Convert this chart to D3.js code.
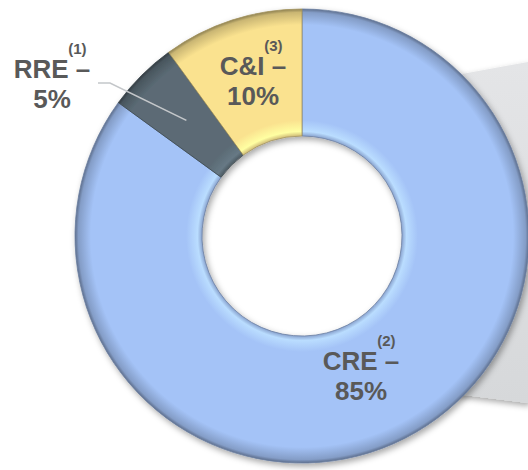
<!DOCTYPE html>
<html>
<head>
<meta charset="utf-8">
<script src="https://cdn.jsdelivr.net/npm/d3@7"></script>
<style>
  body { margin: 0; background: #fff; }
  svg { display: block; font-family: "Liberation Sans", Arial, sans-serif; }
</style>
</head>
<body>
<div id="chart"></div>
<script>
// data
var categories = ['CRE', 'RRE', 'C&I'];
var shares = [85, 5, 10];
var notes = ['(2)', '(1)', '(3)'];
var colors = ['#a4c3f7', '#5b6b75', '#fae28f'];

var svgSize = {width: 528, height: 470};
var cx = 302, cy = 236, rOuter = 227, rInner = 100;

var svg = d3.select('#chart').append('svg')
    .attr('width', svgSize.width)
    .attr('height', svgSize.height);

var defs = svg.append('defs');

var shadow = defs.append('filter').attr('id', 'shadow')
    .attr('x', '-20%').attr('y', '-20%').attr('width', '140%').attr('height', '140%');
shadow.append('feDropShadow')
    .attr('dx', 2).attr('dy', 3).attr('stdDeviation', 3)
    .attr('flood-color', '#000').attr('flood-opacity', 0.35);

// grey panel behind the donut (decoration, partly hidden)
var panelGrad = defs.append('linearGradient').attr('id', 'panelGrad')
    .attr('x1', 0).attr('y1', 0).attr('x2', 0).attr('y2', 1);
panelGrad.append('stop').attr('offset', '0%').attr('stop-color', '#e4e5e7');
panelGrad.append('stop').attr('offset', '100%').attr('stop-color', '#d6d8da');

svg.append('path')
    .attr('d', d3.line()([
        [cx + 138, cy - 158],
        [svgSize.width, 62],
        [svgSize.width, 403],
        [cx + 138, cy + 156]
    ]))
    .attr('fill', 'url(#panelGrad)')
    .attr('filter', 'url(#shadow)');

// bevel gradients per slice
var fr = rInner / rOuter;
colors.forEach(function (c, i) {
    var g = defs.append('radialGradient').attr('id', 'bevel' + i)
        .attr('gradientUnits', 'userSpaceOnUse')
        .attr('cx', 0).attr('cy', 0).attr('r', rOuter);
    var base = d3.color(c);
    g.append('stop').attr('offset', fr).attr('stop-color', base.darker(0.5));
    g.append('stop').attr('offset', fr + 0.02).attr('stop-color', base.brighter(0.35));
    g.append('stop').attr('offset', fr + 0.07).attr('stop-color', base);
    g.append('stop').attr('offset', 0.93).attr('stop-color', base);
    g.append('stop').attr('offset', 0.985).attr('stop-color', base.darker(0.6));
    g.append('stop').attr('offset', 1).attr('stop-color', base.darker(1.6));
});

var pie = d3.pie().sort(null).value(function (d) { return d; });
var arc = d3.arc().innerRadius(rInner).outerRadius(rOuter);
var arcs = pie(shares);

var g = svg.append('g')
    .attr('transform', 'translate(' + cx + ',' + cy + ')');

g.append('g').attr('filter', 'url(#shadow)')
    .selectAll('path')
    .data(arcs)
    .enter()
    .append('path')
    .attr('d', arc)
    .attr('fill', function (d, i) { return 'url(#bevel' + i + ')'; })
    .attr('stroke', function (d, i) { return d3.color(colors[i]).darker(1.2); })
    .attr('stroke-width', 0.8);

// labels
var textColor = '#595959';
var labelPos = [
    {x: 361, y: 370},   // CRE
    {x: 52, y: 78},     // RRE (outside)
    {x: 253, y: 75}     // C&I
];

var labels = svg.append('g')
    .attr('font-weight', 'bold')
    .attr('fill', textColor)
    .attr('text-anchor', 'middle');

arcs.forEach(function (d, i) {
    var p = labelPos[i];
    var t = labels.append('text')
        .attr('x', p.x).attr('y', p.y)
        .attr('font-size', 26);
    t.append('tspan').text(categories[i] + ' \u2013');
    // footnote marker sits above the dash
    t.append('tspan')
        .attr('dx', -22).attr('dy', -24)
        .attr('font-size', 15)
        .text(notes[i]);
    labels.append('text')
        .attr('x', p.x).attr('y', p.y + 30)
        .attr('font-size', 26)
        .text(shares[i] + '%');
});

// leader line for RRE
var c = arc.centroid(arcs[1]);
svg.append('path')
    .attr('d', d3.line()([
        [98, 83],
        [110, 83],
        [cx + c[0], cy + c[1]]
    ]))
    .attr('fill', 'none')
    .attr('stroke', '#c4c7ca')
    .attr('stroke-width', 1.6);
</script>
</body>
</html>
